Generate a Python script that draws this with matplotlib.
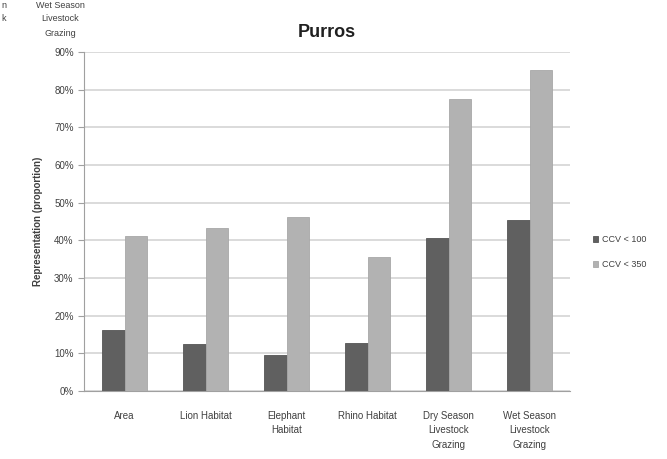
import numpy as np
import matplotlib
matplotlib.use("Agg")
from matplotlib import pyplot as plt
from matplotlib.ticker import PercentFormatter

categories = ["Area", "Lion Habitat", "Elephant\nHabitat", "Rhino Habitat",
              "Dry Season\nLivestock\nGrazing", "Wet Season\nLivestock\nGrazing"]
ccv_100 = [16.2, 12.4, 9.5, 12.7, 40.7, 45.3]
ccv_350 = [41.1, 43.3, 46.1, 35.5, 77.5, 85.3]
series_names = ["CCV < 100", "CCV < 350"]

plt.rcParams['font.family'] = ['Liberation Sans', 'DejaVu Sans']

fig = plt.figure(figsize=(6.67, 4.59), dpi=100)
ax = fig.add_axes([0.126, 0.148, 0.729, 0.739])

x = np.arange(len(categories))
w = 0.28
ax.bar(x - w / 2, ccv_100, w, color="#606060", edgecolor="#555555", linewidth=0.6,
       label=series_names[0], zorder=3)
ax.bar(x + w / 2, ccv_350, w, color="#b2b2b2", edgecolor="#a8a8a8", linewidth=0.6,
       label=series_names[1], zorder=3)

ax.set_xlim(-0.5, len(categories) - 0.5)
ax.set_ylim(0, 90)
ax.set_yticks(np.arange(0, 91, 10))
ax.yaxis.set_major_formatter(PercentFormatter(decimals=0))
ax.set_xticks(x)
ax.set_xticklabels(categories, fontsize=7, color="#404040", linespacing=1.6)
ax.tick_params(axis="x", length=0, pad=14)
ax.tick_params(axis="y", labelsize=7, colors="#404040", length=4, width=0.8, color="#a0a0a0")
ax.grid(axis="y", color="#d4d4d4", linewidth=1.2, zorder=0)

for s in ["top", "right"]:
    ax.spines[s].set_visible(False)
ax.spines["left"].set_color("#a0a0a0")
ax.spines["bottom"].set_color("#a0a0a0")

ax.set_ylabel("Representation (proportion)", fontsize=7, fontweight="bold", color="#404040", labelpad=8)
ax.set_title("Purros", fontsize=13, fontweight="bold", color="#202020", pad=11)

ax.legend(loc="center left", bbox_to_anchor=(1.03, 0.41), frameon=False, fontsize=6.5,
          handlelength=0.6, handleheight=0.6, handletextpad=0.4, labelspacing=1.8,
          labelcolor="#404040")

# leftover labels from a neighbouring chart, cropped at the top-left
fig.text(0.09, 0.988, "Wet Season", fontsize=6.5, color="#404040", ha="center", va="center")
fig.text(0.09, 0.96, "Livestock", fontsize=6.5, color="#404040", ha="center", va="center")
fig.text(0.09, 0.928, "Grazing", fontsize=6.5, color="#404040", ha="center", va="center")
fig.text(0.002, 0.988, "n", fontsize=6.5, color="#404040", ha="left", va="center")
fig.text(0.002, 0.96, "k", fontsize=6.5, color="#404040", ha="left", va="center")

fig.savefig("out.png", dpi=100)
